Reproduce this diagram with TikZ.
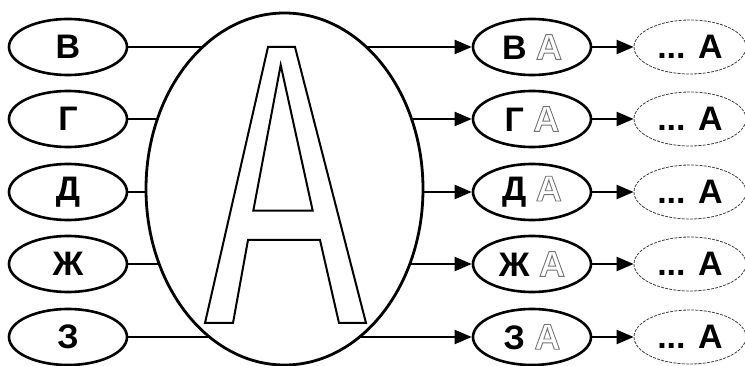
\documentclass[tikz,border=0pt]{standalone}
\usepackage{fontspec}
\setmainfont{Liberation Sans}
\usetikzlibrary{arrows.meta}
\usetikzlibrary{shapes.geometric}
\usetikzlibrary{backgrounds}
% letter drawn as an outline only
\newcommand{\hollowA}{{\fontsize{36}{37}\selectfont
    \special{pdf:literal direct 1 Tr 0.9 w 0.45 0.45 0.45 RG}А\special{pdf:literal direct 0 Tr}}}
\tikzset{
    letterbox/.style={draw, ellipse, line width=2.6pt, inner sep=0pt,
        minimum width=118, minimum height=56},
    pairbox/.style={letterbox},
    restbox/.style={draw=black!75, ellipse, line width=0.8pt, dash pattern=on 3pt off 1.2pt,
        inner sep=0pt, minimum width=112, minimum height=54},
    link/.style={line width=2.2pt},
    arrowlink/.style={link, -{Triangle[length=17pt,width=14pt]}}
}
\begin{document}
\begin{tikzpicture}[x=1pt,y=-1pt,
    every node/.style={font=\fontsize{34}{36}\selectfont\bfseries}]
		 	\useasboundingbox (0,0) rectangle (745,366);
		 	
		 	% big ellipse with the hollow letter
		 	\node[draw, ellipse, fill=white, line width=2.8pt, inner sep=0pt,
		 	    minimum width=277, minimum height=352] (big) at (284.5,189) {};
		 	\draw[line width=2pt, line join=miter] (268,47) -- (295,47) -- (366,323) -- (339,323)
		 	    -- (320,240) -- (248,240) -- (233,323) -- (205,323) -- cycle;
		 	\draw[line width=2pt] (280.7,65) -- (312.7,210.7) -- (253.3,210.7) -- cycle;
		 	
		 	% left letters
		 	\node[letterbox] (v)  at (68,47)  {В};
		 	\node[letterbox] (g)  at (68,119) {Г};
		 	\node[letterbox] (d)  at (68,192) {Д};
		 	\node[letterbox] (zh) at (68,264) {Ж};
		 	\node[letterbox] (z)  at (68,337) {З};
		 	
		 	% syllables
		 	\node[pairbox] (va)  at (532,47)  {В \hollowA};
		 	\node[pairbox] (ga)  at (532,119) {Г \hollowA};
		 	\node[pairbox] (da)  at (532,192) {Д \hollowA};
		 	\node[pairbox] (zha) at (532,264) {Ж \hollowA};
		 	\node[pairbox] (za)  at (532,337) {З \hollowA};
		 	
		 	% endings
		 	\node[restbox] (vend)  at (690,47)  {... А};
		 	\node[restbox] (gend)  at (690,119) {... А};
		 	\node[restbox] (dend)  at (690,192) {... А};
		 	\node[restbox] (zhend) at (690,264) {... А};
		 	\node[restbox] (zend)  at (690,337) {... А};
		 	
		 	\begin{scope}[on background layer]
		 	\draw[arrowlink] (v.east) -- (va.west);
		 	\draw[arrowlink] (g.east) -- (ga.west);
		 	\draw[arrowlink] (d.east) -- (da.west);
		 	\draw[arrowlink] (zh.east) -- (zha.west);
		 	\draw[arrowlink] (z.east) -- (za.west);
		 	\end{scope}
		 	
		 	\draw[arrowlink] (va.east) -- (vend.west);
		 	\draw[arrowlink] (ga.east) -- (gend.west);
		 	\draw[arrowlink] (da.east) -- (dend.west);
		 	\draw[arrowlink] (zha.east) -- (zhend.west);
		 	\draw[arrowlink] (za.east) -- (zend.west);
\end{tikzpicture}
\end{document}
